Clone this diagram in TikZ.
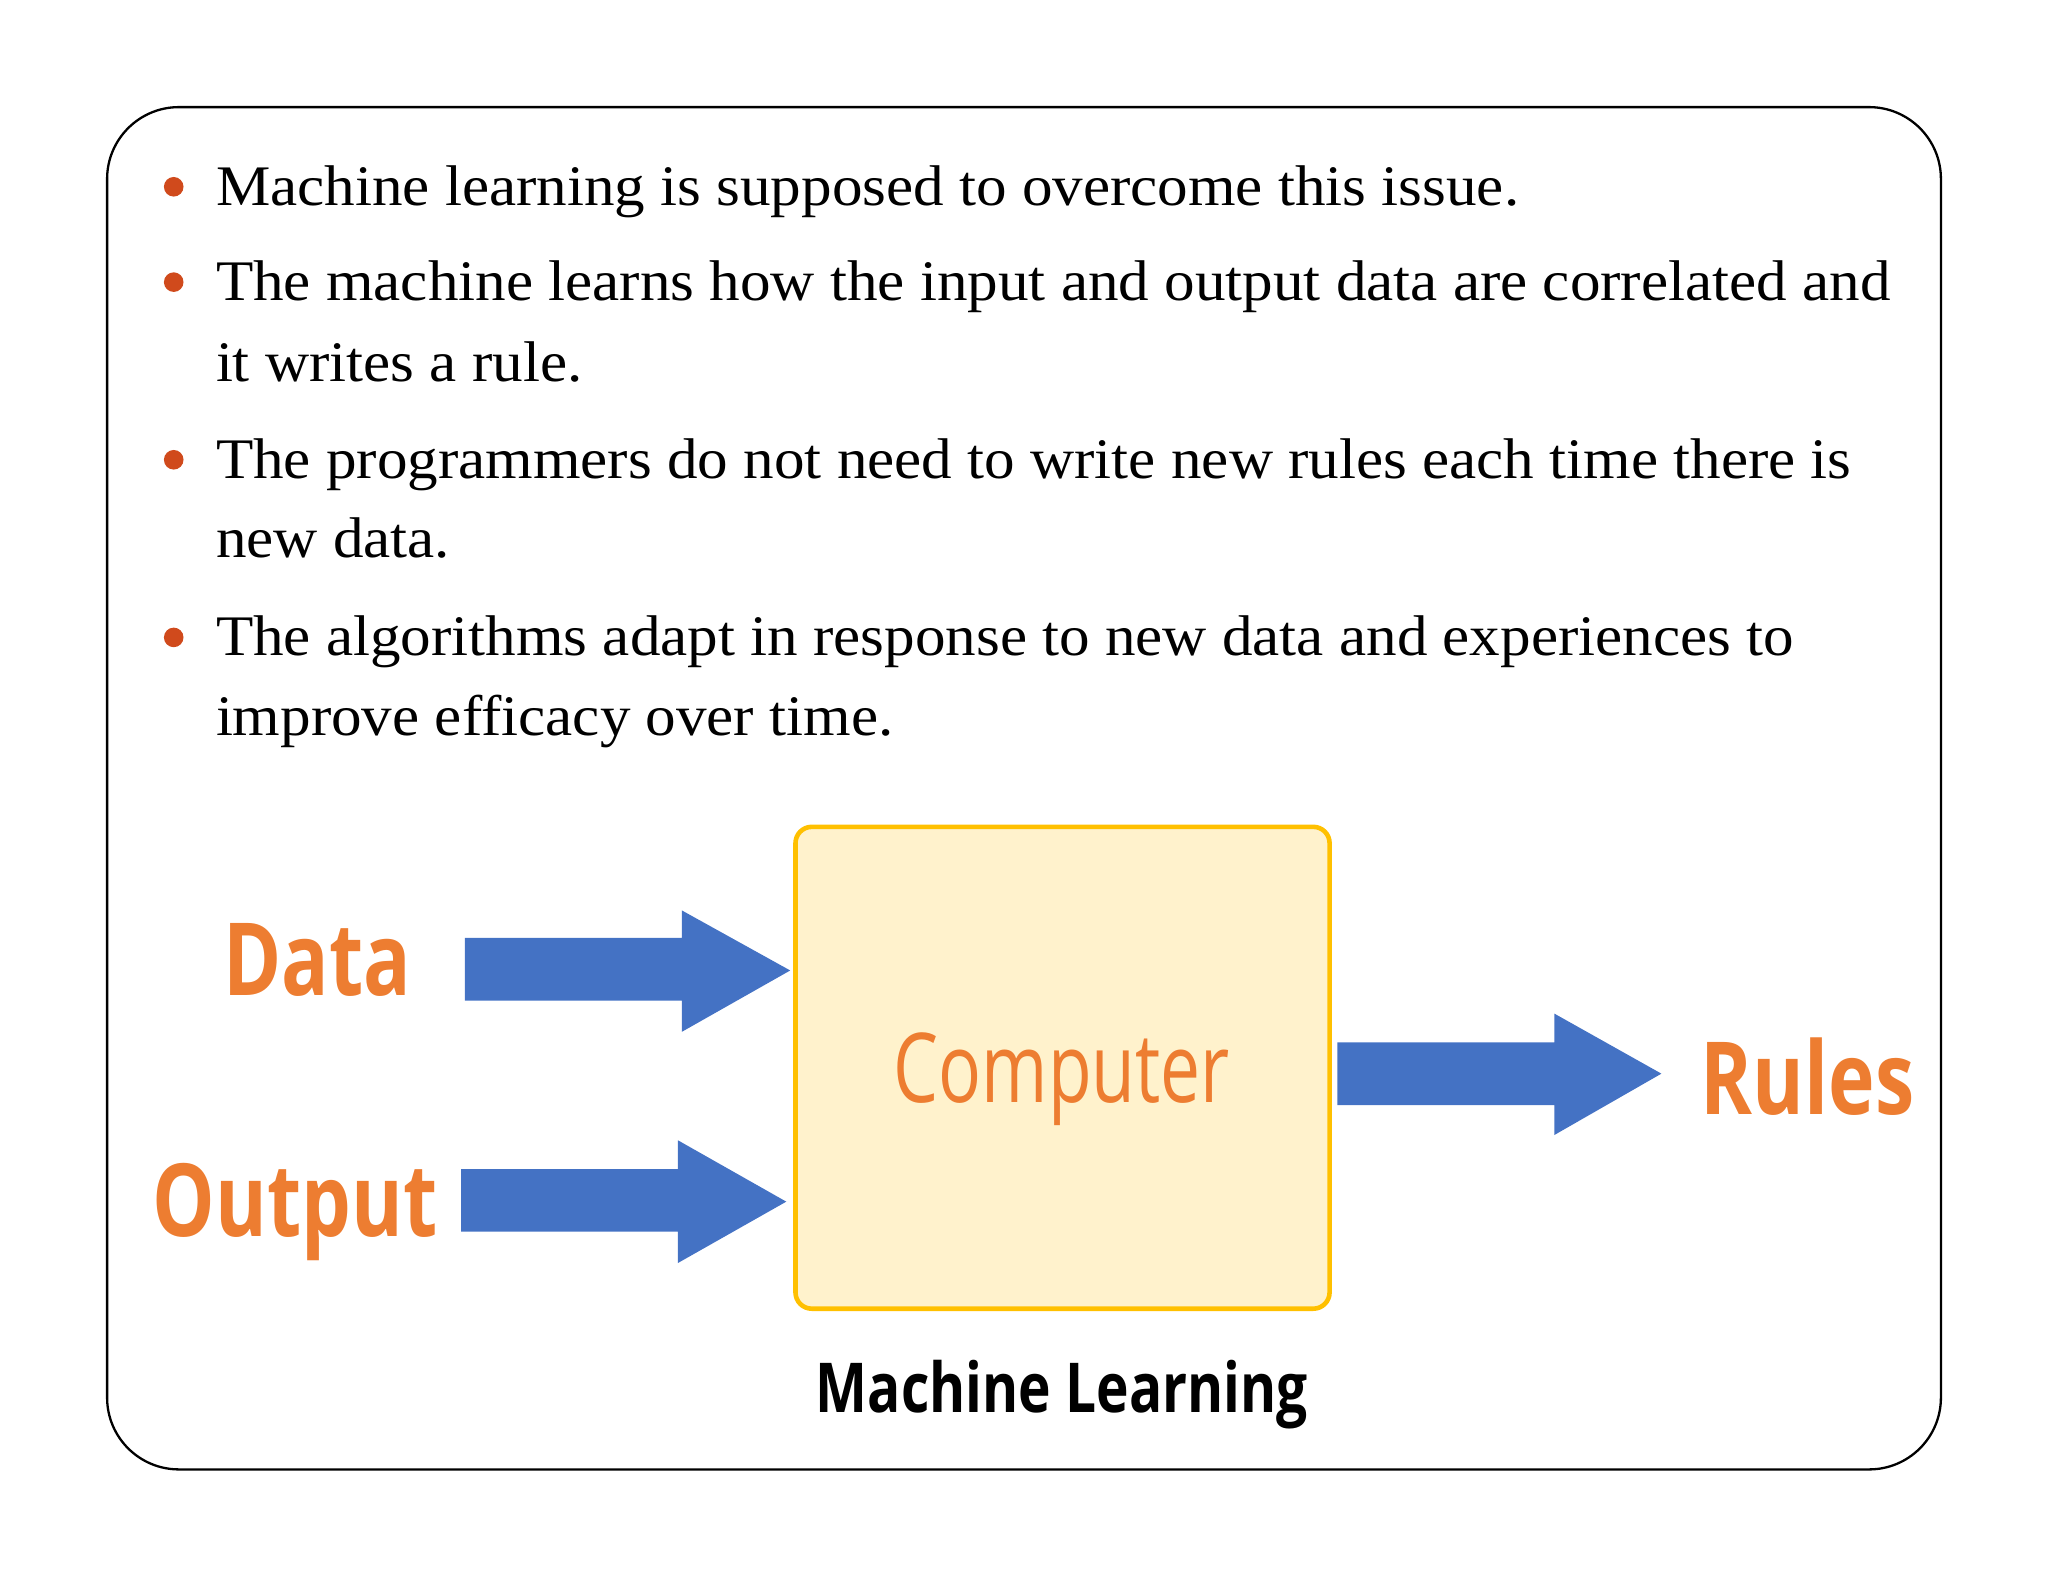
\documentclass[tikz,border=0pt]{standalone}
\usepackage{fontspec}
\setmainfont{Liberation Serif}
\newfontfamily\dsans{Open Sans}
\definecolor{bul}{HTML}{D04A1C}
\definecolor{org}{HTML}{ED7D31}
\definecolor{blu}{HTML}{4472C4}
\definecolor{boxf}{HTML}{FFF2CC}
\definecolor{boxd}{HTML}{FFC000}
\begin{document}
\begin{tikzpicture}[x=0.02cm,y=-0.02cm,
  txt/.style={anchor=base west,inner sep=0,font=\fontsize{25}{30}\selectfont,xscale=1.065},
  dot/.style={circle,fill=bul,inner sep=0,minimum size=0.3cm},
  lbl/.style={font=\dsans\bfseries\fontsize{44}{50}\selectfont,text=org,xscale=0.78},
  arr/.style={fill=blu,draw=none}]
\useasboundingbox (0,0) rectangle (1568,1211);
\draw[line width=1pt,rounded corners=1.1cm] (82,82) rectangle (1486,1125);
\foreach \y in {143,216,352,488} \node[dot] at (133,\y) {};
\node[txt] (l1) at (165,157) {Machine learning is supposed to overcome this issue.};
\node[txt] (l2) at (165,230) {The machine learns how the input and output data are correlated and};
\node[txt] (l3) at (165,292) {it writes a rule.};
\node[txt] (l4) at (165,366) {The programmers do not need to write new rules each time there is};
\node[txt] (l5) at (165,427) {new data.};
\node[txt] (l6) at (165,502) {The algorithms adapt in response to new data and experiences to};
\node[txt] (l7) at (165,563) {improve efficacy over time.};
\node[draw=boxd,fill=boxf,line width=2pt,rounded corners=0.25cm,minimum width=8.18cm,minimum height=7.38cm] (comp) at (813.5,817.5) {};
\node[font=\dsans\fontsize{42}{48}\selectfont,text=org,xscale=0.74] at (813,826) {Computer};
\node[lbl] (data) at (243,735) {Data};
\node[lbl] (out) at (226,928) {Output};
\node[lbl] (rules) at (1384,824) {Rules};
\node[font=\dsans\bfseries\fontsize{30}{36}\selectfont,xscale=0.8] (ml) at (813,1068) {Machine Learning};
\fill[arr] (356,718) -- (522,718) -- (522,697) -- (605,743) -- (522,790) -- (522,766) -- (356,766) -- cycle;
\fill[arr] (353,895) -- (519,895) -- (519,873) -- (602,920) -- (519,967) -- (519,943) -- (353,943) -- cycle;
\fill[arr] (1024,798) -- (1190,798) -- (1190,776) -- (1272,822) -- (1190,869) -- (1190,846) -- (1024,846) -- cycle;
\end{tikzpicture}
\end{document}
